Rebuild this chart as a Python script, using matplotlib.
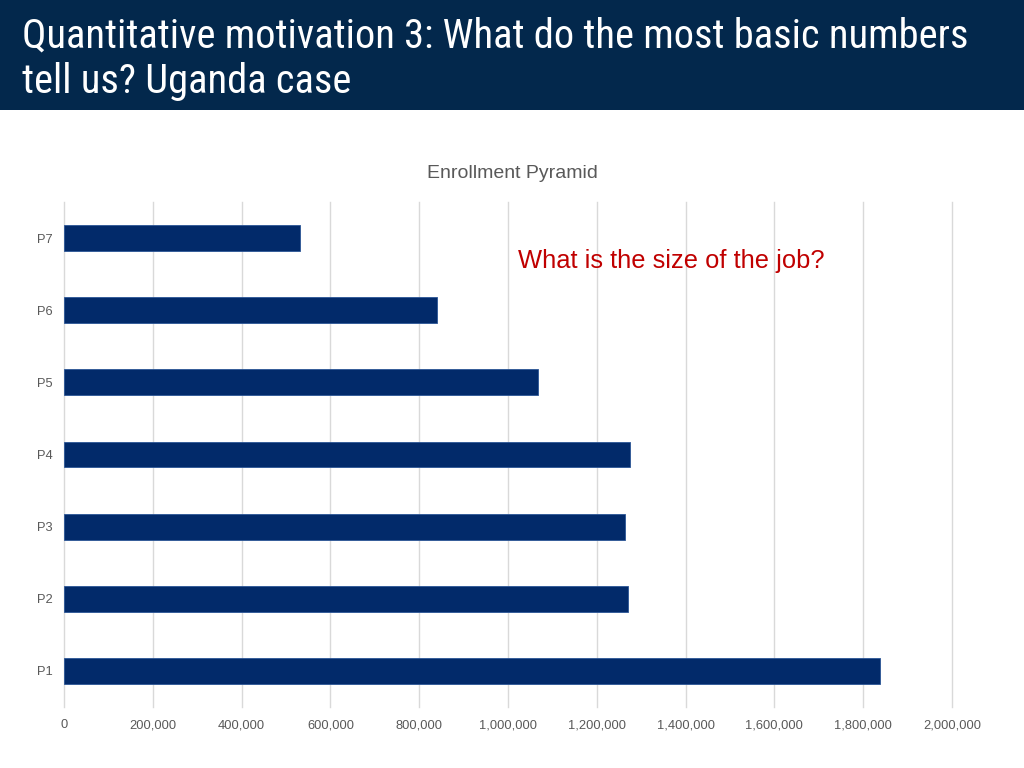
import matplotlib
matplotlib.use("Agg")
import matplotlib.pyplot as plt
from matplotlib.ticker import FuncFormatter
from matplotlib import font_manager
from matplotlib.font_manager import FontProperties

grades = ["P1", "P2", "P3", "P4", "P5", "P6", "P7"]
enrollment = [1837000, 1270000, 1264000, 1275000, 1067000, 840000, 531000]
x_ticks = [0, 200000, 400000, 600000, 800000, 1000000, 1200000, 1400000, 1600000, 1800000, 2000000]

header_line1 = "Quantitative motivation 3: What do the most basic numbers"
header_line2 = "tell us? Uganda case"
chart_title = "Enrollment Pyramid"
annotation = "What is the size of the job?"

plt.rcParams["font.family"] = ["Liberation Sans", "DejaVu Sans"]


def find_condensed():
    narrow_stretch = {"condensed", "semi-condensed", "extra-condensed", "ultra-condensed"}
    prefs = ["Liberation Sans Narrow", "Roboto Condensed", "Open Sans Condensed",
             "Noto Sans Condensed", "Noto Sans", "DejaVu Sans Condensed", "DejaVu Sans",
             "Roboto", "Open Sans", "Inter", "Lato"]
    cands = []
    for f in font_manager.fontManager.ttflist:
        st = f.stretch
        is_narrow = (st in narrow_stretch) or (isinstance(st, int) and st < 500) \
            or ("Narrow" in f.name) or ("Condensed" in f.name) \
            or ("Condensed" in f.fname) or ("Narrow" in f.fname)
        if not is_narrow:
            continue
        if f.style != "normal":
            continue
        w = f.weight if isinstance(f.weight, int) else {"normal": 400, "regular": 400, "book": 400}.get(str(f.weight).lower(), 700)
        if w != 400:
            continue
        fn = f.fname.lower()
        if "bold" in fn or "italic" in fn or "light" in fn or "semi" in fn.replace("semicondensed", "") or "mono" in fn or "serif" in fn.replace("sans", ""):
            continue
        rank = next((i for i, p in enumerate(prefs) if f.name == p), len(prefs))
        cands.append((rank, f.fname))
    cands.sort()
    return cands[0][1] if cands else None


cpath = find_condensed()
if cpath:
    head_fp = FontProperties(fname=cpath, size=30)
else:
    head_fp = FontProperties(family="Liberation Sans", size=30)

fig = plt.figure(figsize=(10.24, 7.68), dpi=100)
fig.patch.set_facecolor("white")

# header band
band = fig.add_axes([0, 1 - 110 / 768, 1, 110 / 768])
band.set_facecolor("#03284c")
band.set_xticks([]); band.set_yticks([])
for s in band.spines.values():
    s.set_visible(False)

t1 = fig.text(22 / 1024, 1 - 47 / 768, header_line1, color="white",
              fontproperties=head_fp, va="baseline", ha="left")
t2 = fig.text(22 / 1024, 1 - 93 / 768, header_line2, color="white",
              fontproperties=head_fp, va="baseline", ha="left")
# fit the first line to the reference width (~945 px)
fig.canvas.draw()
r = fig.canvas.get_renderer()
w = t1.get_window_extent(r).width
target = 945.0
if w > 0:
    newsize = 30 * target / w
    newsize = min(newsize, 34)
    t1.set_fontsize(newsize)
    t2.set_fontsize(newsize)

ax = fig.add_axes([64 / 1024, 1 - 707 / 768, 888 / 1024, 505 / 768])
ax.barh(range(len(grades)), enrollment, height=0.36, color="#022a6a",
        edgecolor="#2b5596", linewidth=0.6, zorder=3)
ax.set_xlim(0, 2000000)
ax.set_ylim(-0.5, len(grades) - 0.5)
ax.set_yticks(range(len(grades)))
ax.set_yticklabels(grades)
ax.set_xticks(x_ticks)
ax.xaxis.set_major_formatter(FuncFormatter(lambda v, p: f"{int(v):,}"))
ax.tick_params(axis="both", length=0, labelsize=9.3, labelcolor="#595959")
ax.tick_params(axis="x", pad=9)
ax.tick_params(axis="y", pad=8)
ax.grid(axis="x", color="#d9d9d9", linewidth=1, zorder=0)
for gl in ax.xaxis.get_gridlines():
    gl.set_clip_on(False)
for s in ax.spines.values():
    s.set_visible(False)

fig.text(512 / 1024, 1 - 173 / 768, chart_title, ha="center", va="center",
         fontsize=14, color="#595959")
fig.text(518 / 1024, 1 - 261 / 768, annotation, ha="left", va="center",
         fontsize=18.4, color="#c00000")

fig.savefig("out.png", dpi=100)
